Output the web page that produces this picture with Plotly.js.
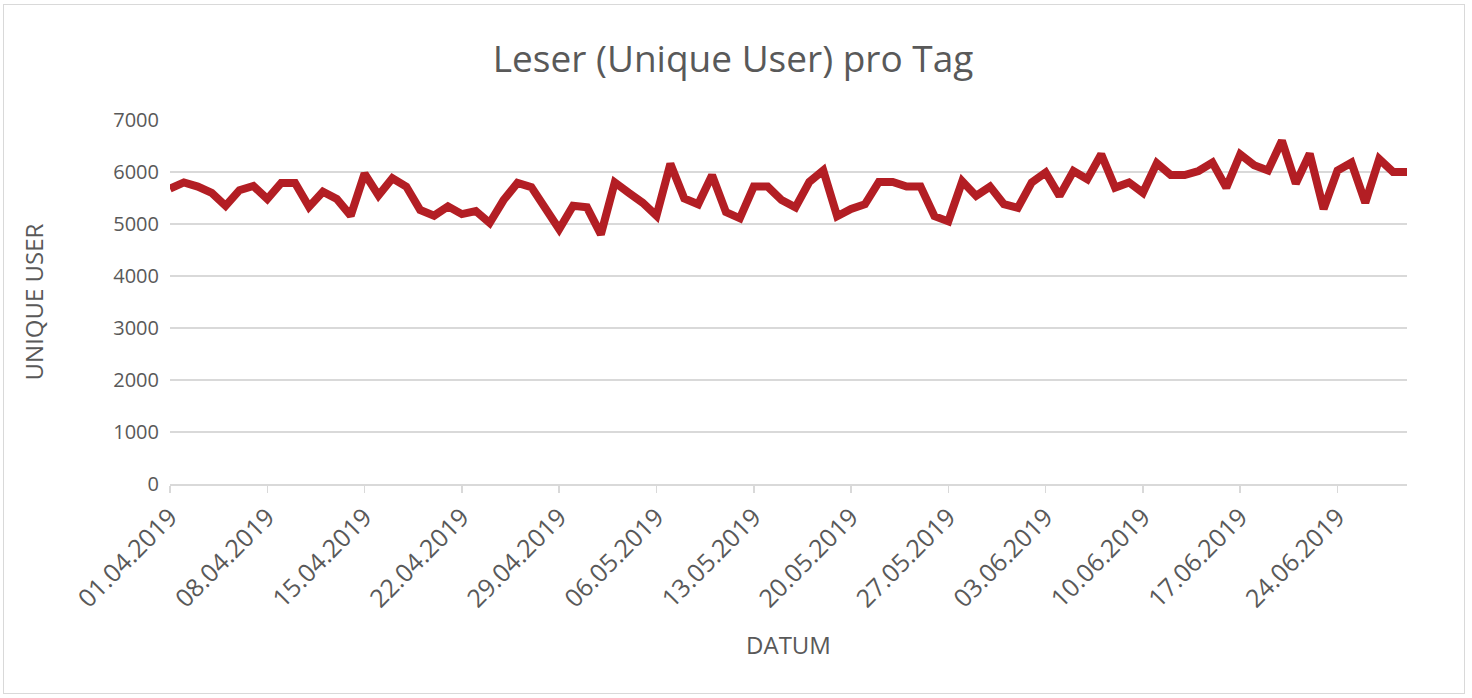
<!DOCTYPE html>
<html>
<head>
<meta charset="utf-8">
<script src="https://cdn.plot.ly/plotly-3.0.1.min.js"></script>
<style>
  html, body { margin: 0; padding: 0; background: #ffffff; }
  #chart { width: 1472px; height: 698px; position: relative; }
  #frame { position: absolute; left: 3px; top: 4px; width: 1462px; height: 690px;
           border: 1.5px solid #d9d9d9; pointer-events: none; box-sizing: border-box; }
</style>
</head>
<body>
<div id="chart"></div>
<div id="frame"></div>
<script>
// Chart content
const chartTitle = "Leser (Unique User) pro Tag";
const xAxisTitle = "DATUM";
const yAxisTitle = "UNIQUE USER";
const startDate = "2019-04-01";
const endDate = "2019-06-29";

// Daily unique users, 01.04.2019 – 29.06.2019
const uniqueUsers = [
  5680, 5800, 5720, 5600, 5350, 5650, 5730, 5480, 5790, 5790,
  5330, 5620, 5480, 5160, 5970, 5550, 5880, 5720, 5270, 5160,
  5340, 5190, 5250, 5020, 5460, 5790, 5710, 5290, 4900, 5350,
  5320, 4800, 5800, 5600, 5410, 5160, 6160, 5490, 5380, 5940,
  5230, 5110, 5720, 5720, 5460, 5320, 5810, 6030, 5150, 5290,
  5380, 5810, 5810, 5720, 5720, 5150, 5050, 5820, 5540, 5720,
  5380, 5310, 5800, 5990, 5540, 6020, 5860, 6340, 5700, 5800,
  5600, 6170, 5940, 5940, 6020, 6180, 5700, 6340, 6130, 6030,
  6600, 5780, 6350, 5290, 6030, 6180, 5410, 6250, 6000, 6000
];

// Build the date list for each data value
function buildDates(start, n) {
  const out = [];
  const d0 = new Date(start + "T00:00:00Z");
  for (let i = 0; i < n; i++) {
    const d = new Date(d0.getTime() + i * 86400000);
    out.push(d.toISOString().slice(0, 10));
  }
  return out;
}
const dates = buildDates(startDate, uniqueUsers.length);

const yTickValues = [0, 1000, 2000, 3000, 4000, 5000, 6000, 7000];

const textColor = "#595959";
const gridColor = "#d9d9d9";
const font = "Open Sans, Liberation Sans, sans-serif";

const trace = {
  type: "scatter",
  mode: "lines",
  x: dates,
  y: uniqueUsers,
  line: { color: "#b31e24", width: 8, shape: "linear" },
  hoverinfo: "x+y",
  showlegend: false
};

const layout = {
  width: 1472,
  height: 698,
  paper_bgcolor: "#ffffff",
  plot_bgcolor: "#ffffff",
  margin: { l: 170, r: 65, t: 120, b: 214 },
  title: {
    text: chartTitle,
    font: { family: font, size: 37, color: textColor },
    x: 0.498, xanchor: "center",
    y: 0.916, yanchor: "middle"
  },
  xaxis: {
    type: "date",
    range: [startDate, endDate],
    tick0: startDate,
    dtick: 7 * 86400000,
    tickformat: "%d.%m.%Y",
    tickangle: -45,
    ticks: "outside",
    ticklen: 7,
    tickwidth: 1.5,
    tickcolor: gridColor,
    showgrid: false,
    showline: true,
    linecolor: gridColor,
    linewidth: 1.5,
    zeroline: false,
    tickfont: { family: font, size: 25, color: textColor },
    title: {
      text: xAxisTitle,
      font: { family: font, size: 24, color: textColor },
      standoff: 24
    }
  },
  yaxis: {
    range: [0, 7000],
    tickvals: yTickValues,
    ticktext: yTickValues.map(String),
    showgrid: true,
    gridcolor: gridColor,
    gridwidth: 1.5,
    zeroline: false,
    showline: false,
    ticks: "",
    ticklabelstandoff: 10,
    tickfont: { family: font, size: 20, color: textColor },
    title: {
      text: yAxisTitle,
      font: { family: font, size: 24, color: textColor },
      standoff: 62
    }
  }
};

Plotly.newPlot("chart", [trace], layout, { displayModeBar: false, staticPlot: true });
</script>
</body>
</html>
